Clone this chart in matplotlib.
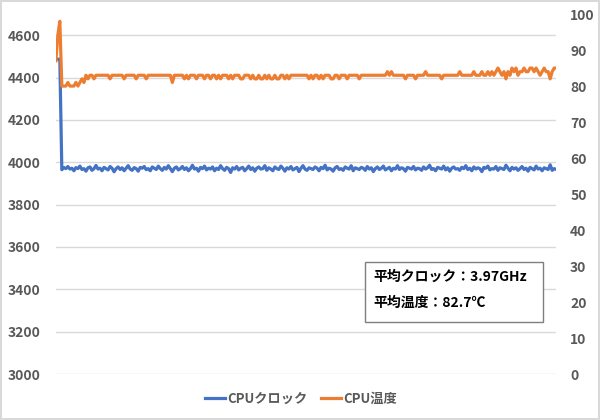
import numpy as np
import matplotlib
matplotlib.use("Agg")
import matplotlib.pyplot as plt
from matplotlib.patches import Rectangle

plt.rcParams['font.family'] = ['Noto Sans CJK JP', 'DejaVu Sans']

# CPU clock (MHz), left axis
clock = [
    4487, 4487, 4487,
    3965, 3975, 3970, 3980, 3968, 3972, 3960, 3975, 3970, 3982, 3966, 3970, 3958, 3974, 3978, 3962, 3970, 3985, 3968, 3972, 3960, 3976, 3970, 3964, 3980,
    3972, 3955, 3970, 3978, 3966, 3974, 3960, 3972, 3984, 3968, 3962, 3975, 3970, 3958, 3976, 3972, 3980, 3965, 3970, 3960, 3978, 3972, 3966, 3982, 3970,
    3962, 3976, 3968, 3984, 3970, 3956, 3972, 3978, 3964, 3970, 3980, 3966, 3974, 3960, 3970, 3986, 3968, 3972, 3958, 3976, 3970, 3982, 3964, 3972, 3968,
    3978, 3960, 3972, 3966, 3984, 3970, 3962, 3976, 3970, 3952, 3974, 3968, 3980, 3964, 3972, 3976, 3960, 3970, 3982, 3966, 3974, 3958, 3972, 3978, 3968,
    3970, 3984, 3962, 3974, 3968, 3960, 3978, 3970, 3966, 3982, 3972, 3958, 3974, 3968, 3980, 3964, 3970, 3976, 3956, 3972, 3984, 3968, 3962, 3974, 3970,
    3966, 3978, 3972, 3960, 3976, 3970, 3986, 3964, 3972, 3968, 3958, 3974, 3980, 3966, 3970, 3962, 3978, 3972, 3968, 3984, 3960, 3974, 3970, 3966, 3976,
    3972, 3962, 3980, 3968, 3974, 3956, 3970, 3978, 3966, 3972, 3982, 3964, 3970, 3976, 3960, 3972, 3968, 3984, 3966, 3974, 3970, 3958, 3976, 3972, 3968,
    3980, 3964, 3972, 3970, 3962, 3978, 3968, 3974, 3986, 3966, 3970, 3960, 3976, 3972, 3968, 3982, 3964, 3974, 3958, 3972, 3978, 3968, 3970, 3962, 3976,
    3970, 3984, 3966, 3972, 3960, 3978, 3968, 3974, 3970, 3956, 3976, 3972, 3982, 3964, 3970, 3968, 3980, 3962, 3974, 3970, 3966, 3986, 3972, 3960, 3976,
    3968, 3974, 3962, 3970, 3980, 3966, 3972, 3958, 3976, 3970, 3964, 3982, 3968, 3972, 3960, 3974, 3970, 3966, 3988, 3962, 3970, 3966,
]

# CPU temperature (C), right axis
temp = [
    87, 94, 98, 80, 80, 80, 81, 80, 80, 80, 81, 80, 81, 82, 81, 83, 82, 83, 83, 82, 83, 83, 83, 83, 83,
    83, 83, 82, 83, 83, 83, 83, 83, 83, 82, 83, 83, 83, 83, 83, 82, 83, 83, 83, 83, 82, 83, 83, 83, 83,
    83, 83, 83, 83, 83, 83, 83, 83, 81, 83, 83, 83, 83, 83, 82, 83, 82, 83, 83, 83, 82, 83, 83, 83, 82,
    83, 83, 82, 83, 83, 82, 83, 82, 83, 83, 83, 82, 83, 82, 83, 83, 83, 82, 82, 83, 83, 83, 82, 83, 82,
    82, 83, 82, 82, 83, 82, 83, 82, 82, 83, 82, 82, 83, 83, 82, 83, 82, 83, 83, 83, 83, 83, 83, 83, 83,
    83, 82, 83, 82, 83, 83, 82, 83, 82, 83, 83, 83, 82, 82, 83, 83, 82, 83, 83, 83, 82, 83, 83, 83, 83,
    83, 82, 83, 83, 83, 83, 83, 83, 83, 83, 83, 83, 83, 83, 83, 84, 83, 84, 83, 83, 83, 83, 83, 83, 82,
    83, 83, 83, 83, 82, 83, 83, 83, 83, 84, 83, 83, 83, 83, 83, 83, 83, 82, 83, 83, 83, 83, 83, 83, 83,
    83, 84, 83, 83, 83, 83, 83, 83, 84, 83, 83, 83, 84, 83, 83, 84, 83, 84, 83, 84, 85, 84, 83, 84, 82,
    84, 83, 85, 84, 85, 83, 84, 84, 85, 84, 84, 85, 85, 84, 85, 84, 83, 84, 85, 84, 84, 82, 84, 85, 85,
]

clock_ticks = [3000, 3200, 3400, 3600, 3800, 4000, 4200, 4400, 4600]
temp_ticks = [0, 10, 20, 30, 40, 50, 60, 70, 80, 90, 100]
series_names = ['CPUクロック', 'CPU温度']
note_lines = ['平均クロック：3.97GHz', '平均温度：82.7℃']

blue = '#4472C4'
orange = '#ED7D31'
gray = '#595959'

fig = plt.figure(figsize=(6, 4.2), dpi=100)
fig.patch.set_edgecolor('#d9d9d9')
fig.patch.set_linewidth(1.5)
ax = fig.add_axes([0.093, 0.1095, 0.834, 0.857])
ax2 = ax.twinx()

x = np.arange(len(clock))
ax.plot(x, clock, color=blue, lw=2.3, solid_joinstyle='round', zorder=3)
ax2.plot(np.arange(len(temp)), temp, color=orange, lw=2.3, solid_joinstyle='round')

ax.set_xlim(0, len(clock) - 1)
ax.set_ylim(3000, 4700)
ax.set_yticks(clock_ticks)
ax2.set_ylim(0, 100)
ax2.set_yticks(temp_ticks)
ax.set_xticks([])

ax.grid(axis='y', color='#d9d9d9', lw=1)
ax.set_axisbelow(True)
for a in (ax, ax2):
    for s in a.spines.values():
        s.set_visible(False)
ax.tick_params(axis='y', length=0, pad=11, labelsize=10, labelcolor=gray)
ax2.tick_params(axis='y', length=0, pad=10, labelsize=10, labelcolor=gray)
for lab in ax.get_yticklabels() + ax2.get_yticklabels():
    lab.set_fontweight('bold')

# legend
h1 = plt.Line2D([], [], color=blue, lw=2.3)
h2 = plt.Line2D([], [], color=orange, lw=2.3)
fig.legend([h1, h2], series_names, loc='center', bbox_to_anchor=(0.502, 0.05),
           ncol=2, frameon=False, handlelength=1.5, handletextpad=0.2,
           columnspacing=1.0, prop={'weight': 'bold', 'size': 9.5},
           labelcolor=gray)

# average box
fig.patches.append(Rectangle((0.608, 0.2333), 0.297, 0.1427, transform=fig.transFigure,
                             facecolor='white', edgecolor='#7f7f7f', lw=1, zorder=5))
fig.text(0.622, 0.340, note_lines[0], fontsize=10, fontweight='bold', va='center', zorder=6)
fig.text(0.622, 0.279, note_lines[1], fontsize=10, fontweight='bold', va='center', zorder=6)

fig.savefig('out.png', dpi=100, facecolor='white', edgecolor=fig.patch.get_edgecolor())
